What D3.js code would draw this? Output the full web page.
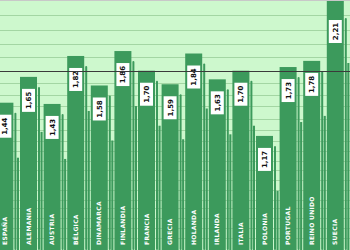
<!DOCTYPE html>
<html>
<head>
<meta charset="utf-8">
<script src="https://cdn.jsdelivr.net/npm/d3@7"></script>
<style>
  body { margin: 0; background: #fff; }
  svg { display: block; }
</style>
</head>
<body>
<svg id="chart"></svg>
<script>
// data
const countries = ["ESPAÑA", "ALEMANIA", "AUSTRIA", "BÉLGICA", "DINAMARCA", "FINLANDIA", "FRANCIA",
    "GRECIA", "HOLANDA", "IRLANDA", "ITALIA", "POLONIA", "PORTUGAL", "REINO UNIDO", "SUECIA"];
const values = [1.44, 1.65, 1.43, 1.82, 1.58, 1.86, 1.70, 1.59, 1.84, 1.63, 1.70, 1.17, 1.73, 1.78, 2.21];
const averageValue = 1.70;
const gridValues = [2.15, 2.03, 1.92, 1.81, 1.60, 1.50, 1.41, 1.31, 1.22, 1.13, 1.05, 0.97,
    0.89, 0.81, 0.73, 0.65, 0.58, 0.50, 0.42, 0.34];

const width = 350, height = 250;
const bg = "#cdf8cd", barColor = "#3c9a5c", gridColor = "#a3d6a3";

const svg = d3.select("#chart")
    .attr("width", width)
    .attr("height", height);

const data = countries.map((c, i) => ({country: c, value: values[i]}));

const x = d3.scaleBand()
    .domain(countries)
    .range([-6.9, 347.1])
    .paddingInner(0.28)
    .paddingOuter(0.14);

const y = d3.scaleLinear()
    .domain([0.34, 2.21])
    .range([238, 8]);

const bw = x.bandwidth();
const step = x.step();

svg.append("rect")
    .attr("width", width).attr("height", height)
    .attr("fill", bg);

// horizontal grid
svg.append("g")
    .selectAll("line")
    .data(gridValues)
    .join("line")
    .attr("x1", 0).attr("x2", width)
    .attr("y1", d => Math.round(y(d)) + 0.5)
    .attr("y2", d => Math.round(y(d)) + 0.5)
    .attr("stroke", gridColor)
    .attr("stroke-width", 1);

// top border
svg.append("line")
    .attr("x1", 0).attr("x2", width)
    .attr("y1", 0.5).attr("y2", 0.5)
    .attr("stroke", "#c8c8c8");

const bars = svg.append("g")
    .selectAll("g")
    .data(data)
    .join("g");

// lower fill of the gap behind each bar
bars.append("rect")
    .attr("x", d => x(d.country) + bw + 3.5)
    .attr("y", d => y(d.value) + 55)
    .attr("width", step - bw - 4.5)
    .attr("height", d => height - y(d.value) - 55)
    .attr("fill", barColor);

// shadow strip
bars.append("rect")
    .attr("x", d => x(d.country) + bw + 1)
    .attr("y", d => y(d.value) + 10)
    .attr("rx", 1)
    .attr("width", 2)
    .attr("height", d => height - y(d.value) - 10)
    .attr("fill", barColor);

// main bar (the tallest one runs to the top edge)
bars.append("rect")
    .attr("x", d => x(d.country))
    .attr("y", d => d.value === d3.max(values) ? 1 : y(d.value))
    .attr("width", bw)
    .attr("height", d => height - (d.value === d3.max(values) ? 1 : y(d.value)))
    .attr("fill", barColor);

// average line
svg.append("line")
    .attr("x1", 0).attr("x2", width)
    .attr("y1", Math.round(y(averageValue)) + 0.5)
    .attr("y2", Math.round(y(averageValue)) + 0.5)
    .attr("stroke", "#3a3a3a")
    .attr("stroke-width", 1.2);

// value boxes
const boxW = 13, boxH = 23;
bars.append("rect")
    .attr("x", d => x(d.country) + bw / 2 - boxW / 2)
    .attr("y", d => y(d.value) + 12)
    .attr("width", boxW)
    .attr("height", boxH)
    .attr("fill", "#fff");

bars.append("text")
    .attr("transform", d => `translate(${x(d.country) + bw / 2 + 2.5},${y(d.value) + 12 + boxH / 2}) rotate(-90)`)
    .attr("text-anchor", "middle")
    .attr("font-family", "DejaVu Sans, sans-serif")
    .attr("font-weight", "bold")
    .attr("font-size", 7)
    .attr("fill", "#111")
    .text(d => d3.format(".2f")(d.value).replace(".", ","));

// country labels
bars.append("text")
    .attr("transform", d => `translate(${x(d.country) + bw / 2 + 2},245) rotate(-90)`)
    .attr("text-anchor", "start")
    .attr("font-family", "DejaVu Sans, sans-serif")
    .attr("font-weight", "bold")
    .attr("font-size", 6)
    .attr("letter-spacing", 0.3)
    .attr("fill", "#fff")
    .text(d => d.country);
</script>
</body>
</html>
